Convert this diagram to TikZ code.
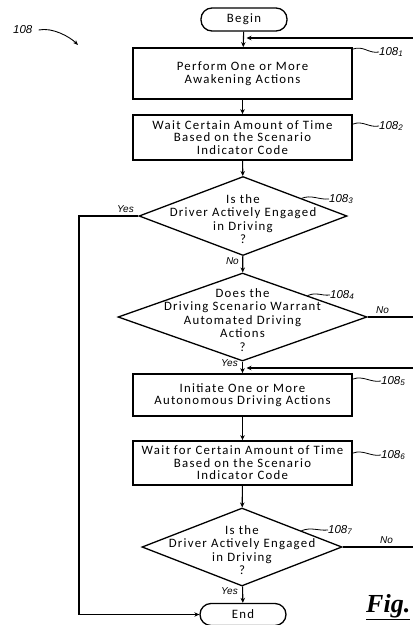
\documentclass[tikz,border=0pt]{standalone}
\usepackage{fontspec}
\setmainfont{Carlito}
\newfontfamily\boxfont{Carlito}[LetterSpace=10]
\newfontfamily\lblfont{Liberation Sans}
\newfontfamily\figfont{Liberation Serif}
\usetikzlibrary{arrows.meta,shapes.geometric,calc}
\tikzset{
  proc/.style={draw, line width=1.8pt, minimum width=219pt, inner sep=0pt, align=center,
    font=\boxfont\fontsize{12.8}{12.6}\selectfont},
  term/.style={draw, line width=1.3pt, rounded corners=11pt, minimum width=86pt,
    minimum height=23pt, inner sep=0pt, font=\boxfont\fontsize{12.8}{12.6}\selectfont},
  dia/.style={draw, diamond, line width=1.3pt, inner sep=0pt},
  dtext/.style={align=center, inner sep=0pt, font=\boxfont\fontsize{12.8}{13.5}\selectfont},
  reflbl/.style={anchor=west, inner sep=0pt, font=\lblfont\itshape\fontsize{11.5}{13}\selectfont},
  yn/.style={inner sep=0pt, font=\lblfont\itshape\fontsize{10}{11}\selectfont},
  arr/.style={-{Stealth[length=5pt,width=4.5pt]}, line width=1.1pt},
  conn/.style={line width=1.1pt},
  sq/.style={line width=0.8pt}
}
\begin{document}
\begin{tikzpicture}[x=1pt,y=-1pt]
\useasboundingbox (0,0) rectangle (413,625);

% nodes
\node[term] (begin) at (244,19.5) {Begin};
\node[proc, minimum height=51pt] (b1) at (242.5,73.5) {Perform One or More\\Awakening Actions};
\node[proc, minimum height=45pt] (b2) at (242.5,137.5) {Wait Certain Amount of Time\\Based on the Scenario\\Indicator Code};
\node[dia, minimum width=208pt, minimum height=79pt] (d1) at (243,216) {};
\node[dtext] (d1t) at (243,219) {Is the\\Driver Actively Engaged\\in Driving\\?};
\node[dia, minimum width=249pt, minimum height=88pt] (d2) at (242.5,317) {};
\node[dtext] (d2t) at (242.5,320) {Does the\\Driving Scenario Warrant\\Automated Driving\\Actions\\?};
\node[proc, minimum height=42pt] (b3) at (242.5,395) {Initiate One or More\\Autonomous Driving Actions};
\node[proc, minimum height=44pt] (b4) at (242.5,463) {Wait for Certain Amount of Time\\Based on the Scenario\\Indicator Code};
\node[dia, minimum width=200pt, minimum height=78pt] (d3) at (242,547) {};
\node[dtext] (d3t) at (242,550) {Is the\\Driver Actively Engaged\\in Driving\\?};
\node[term, minimum height=22pt] (end) at (243,614.5) {End};

% free ends at the right edge
\coordinate (fb1) at (413,38);
\coordinate (fb1e) at (246.5,38);
\coordinate (fb2) at (413,368);
\coordinate (fb2e) at (246.5,368);
\coordinate (no2) at (413,317);
\coordinate (no3) at (413,547);
\coordinate (yl1) at (79,216);
\coordinate (yl2) at (79,614.5);

% connectors
\draw[arr] (begin) -- (b1);
\draw[arr] (fb1) -- (fb1e);
\draw[arr] (b1) -- (b2);
\draw[arr] (b2) -- (d1);
\draw[arr] (d1) -- (d2);
\draw[arr] (d2) -- (b3);
\draw[arr] (fb2) -- (fb2e);
\draw[arr] (b3) -- (b4);
\draw[arr] (b4) -- (d3);
\draw[arr] (d3) -- (end);
\draw[arr] (d1.west) -- (yl1) -- (yl2) -- (end.west);
\draw[conn] (d2.east) -- (no2);
\draw[conn] (d3.east) -- (no3);

% yes / no labels
\node[yn, anchor=south east] (y1) at (134,213) {Yes};
\node[yn, anchor=north east] (n1) at (239,257) {No};
\node[yn, anchor=south west] (n2) at (376,314) {No};
\node[yn, anchor=north east] (y2) at (238,359) {Yes};
\node[yn, anchor=south west] (n3) at (380,544) {No};
\node[yn, anchor=north east] (y3) at (238,587) {Yes};

% reference labels
\node[reflbl] (r1) at (379,52) {108\textsubscript{1}};
\node[reflbl] (r2) at (379,126) {108\textsubscript{2}};
\node[reflbl] (r3) at (329,199) {108\textsubscript{3}};
\node[reflbl] (r4) at (330,295) {108\textsubscript{4}};
\node[reflbl] (r5) at (381,381) {108\textsubscript{5}};
\node[reflbl] (r6) at (381,455) {108\textsubscript{6}};
\node[reflbl] (r7) at (328,530) {108\textsubscript{7}};

\draw[sq] ($(b1.north east)+(0,2)$) .. controls +(10,-4) and +(-10,2) .. (r1.west);
\draw[sq] ($(b2.north east)+(0,10)$) .. controls +(10,-4) and +(-10,2) .. (r2.west);
\draw[sq] ($(d1.north)!0.56!(d1.east)$) .. controls +(10,-4) and +(-10,1) .. (r3.west);
\draw[sq] ($(d2.north)!0.52!(d2.east)$) .. controls +(10,-4) and +(-10,1) .. (r4.west);
\draw[sq] ($(b3.north east)+(0,6)$) .. controls +(10,-4) and +(-10,2) .. (r5.west);
\draw[sq] ($(b4.north east)+(0,13)$) .. controls +(10,-4) and +(-10,2) .. (r6.west);
\draw[sq] ($(d3.north)!0.59!(d3.east)$) .. controls +(10,-4) and +(-10,1) .. (r7.west);

% figure label
\node[reflbl] (r0) at (13,30) {108};
\coordinate (r0e) at (78,45);
\draw[-{Stealth[length=5pt,width=4pt]}, line width=0.9pt] ([xshift=6pt]r0.east) .. controls +(14,-3) and +(-8,-8) .. (r0e);

\node[anchor=base west, inner sep=0pt, font=\figfont\bfseries\itshape\fontsize{26}{28}\selectfont] (fig) at (366,612) {\underline{Fig.}};
\end{tikzpicture}
\end{document}
